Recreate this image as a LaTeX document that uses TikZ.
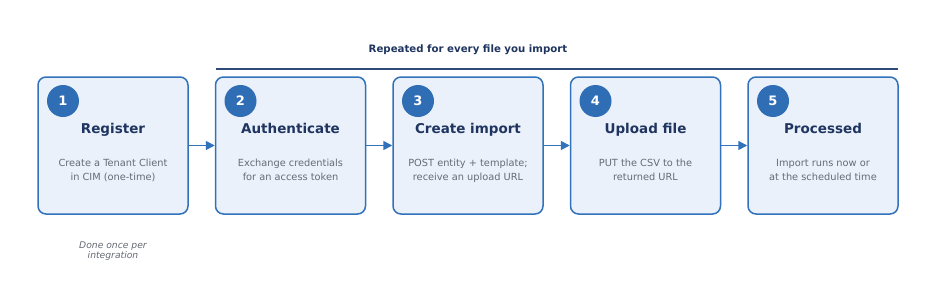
\documentclass[tikz,border=0pt]{standalone}
\usepackage{fontspec}
\setmainfont{DejaVu Sans}
\usetikzlibrary{arrows.meta}
\definecolor{boxfill}{HTML}{EAF1FB}
\definecolor{boxline}{HTML}{3272BA}
\definecolor{circfill}{HTML}{2F6DB5}
\definecolor{navy}{HTML}{1F3560}
\definecolor{desc}{HTML}{666B73}
\definecolor{topline}{HTML}{2E4A78}
\begin{document}
\begin{tikzpicture}[x=1pt,y=-1pt,
  stepbox/.style={draw=boxline, line width=1.5pt, fill=boxfill, rounded corners=8pt, minimum width=150pt, minimum height=137pt, inner sep=0pt},
  numcirc/.style={circle, fill=circfill, minimum size=32pt, inner sep=0pt, text=white, font=\fontsize{13}{15}\selectfont\bfseries},
  titletext/.style={text=navy, anchor=base, inner sep=0pt, font=\fontsize{13.5}{16}\selectfont\bfseries},
  desctext/.style={text=desc, anchor=base, inner sep=0pt, font=\fontsize{9.8}{14}\selectfont},
  flow/.style={draw=boxline, line width=1.5pt, -{Triangle[length=9pt,width=9pt]}}
]
\useasboundingbox (0,0) rectangle (936,300);
\fill[white] (0,0) rectangle (936,300);
\foreach \i/\x/\t/\da/\db in {1/113/Register/{Create a Tenant Client}/{in CIM (one-time)},
  2/290.5/Authenticate/{Exchange credentials}/{for an access token},
  3/468/Create import/{POST entity + template;}/{receive an upload URL},
  4/645.5/Upload file/{PUT the CSV to the}/{returned URL},
  5/823/Processed/{Import runs now or}/{at the scheduled time}}{
  \node[stepbox] (b\i) at (\x,145.5) {};
  \node[numcirc] (c\i) at (\x-50,101) {\i};
  \node[titletext] (t\i) at (\x,133) {\t};
  \node[desctext] (d\i) at (\x,166) {\da};
  \node[desctext] (e\i) at (\x,180) {\db};
}
\foreach \a/\b in {1/2,2/3,3/4,4/5}{
  \draw[flow] (b\a.east) -- (b\b.west);
}
\coordinate (ls) at (216,69);
\coordinate (le) at (898,69);
\draw[topline, line width=1.3pt] (ls) -- (le);
\node[text=navy, anchor=base, inner sep=0pt, font=\fontsize{10.2}{12}\selectfont\bfseries] (rep) at (468,52) {Repeated for every file you import};
\node[text=desc, anchor=base, inner sep=0pt, font=\fontsize{9.2}{10}\selectfont\itshape] (once) at (113,248) {Done once per};
\node[text=desc, anchor=base, inner sep=0pt, font=\fontsize{9.2}{10}\selectfont\itshape] (once2) at (113,258) {integration};
\end{tikzpicture}
\end{document}
